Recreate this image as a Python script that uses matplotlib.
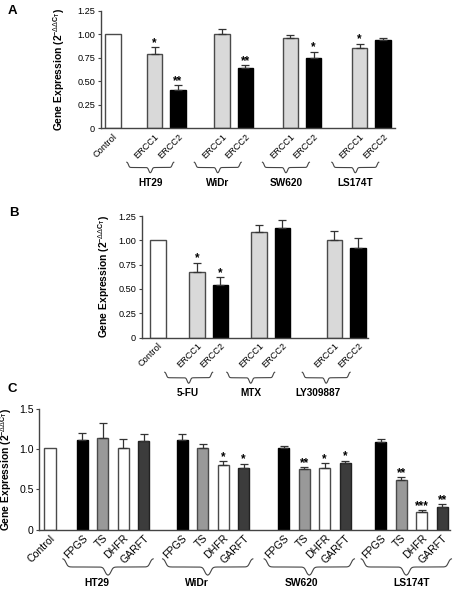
import matplotlib
matplotlib.use("Agg")
import matplotlib.pyplot as plt
import matplotlib.transforms as mtransforms
import numpy as np

plt.rcParams['font.family'] = ['Liberation Sans', 'DejaVu Sans']
plt.rcParams['mathtext.fontset'] = 'custom'
plt.rcParams['mathtext.rm'] = 'Liberation Sans'
plt.rcParams['mathtext.bf'] = 'Liberation Sans:bold'
plt.rcParams['mathtext.it'] = 'Liberation Sans:italic'

# ---------------- data ----------------
A_groups = ['HT29', 'WiDr', 'SW620', 'LS174T']
A_genes = ['ERCC1', 'ERCC2']
A_control = 1.00
A_ercc1 = [0.79, 1.00, 0.96, 0.85]
A_ercc1_err = [0.07, 0.06, 0.03, 0.05]
A_ercc1_sig = ['*', '', '', '*']
A_ercc2 = [0.41, 0.64, 0.745, 0.94]
A_ercc2_err = [0.05, 0.03, 0.07, 0.025]
A_ercc2_sig = ['**', '**', '*', '']

B_groups = ['5-FU', 'MTX', 'LY309887']
B_genes = ['ERCC1', 'ERCC2']
B_control = 1.00
B_ercc1 = [0.67, 1.085, 1.00]
B_ercc1_err = [0.10, 0.075, 0.10]
B_ercc1_sig = ['*', '', '']
B_ercc2 = [0.535, 1.125, 0.92]
B_ercc2_err = [0.085, 0.085, 0.105]
B_ercc2_sig = ['*', '', '']

C_groups = ['HT29', 'WiDr', 'SW620', 'LS174T']
C_genes = ['FPGS', 'TS', 'DHFR', 'GARFT']
C_control = 1.01
C_fpgs = [1.12, 1.12, 1.01, 1.09]
C_fpgs_err = [0.085, 0.075, 0.035, 0.035]
C_fpgs_sig = ['', '', '', '']
C_ts = [1.145, 1.015, 0.75, 0.617]
C_ts_err = [0.185, 0.055, 0.027, 0.033]
C_ts_sig = ['', '', '**', '**']
C_dhfr = [1.02, 0.80, 0.77, 0.218]
C_dhfr_err = [0.11, 0.053, 0.055, 0.02]
C_dhfr_sig = ['', '*', '*', '***']
C_garft = [1.10, 0.77, 0.825, 0.285]
C_garft_err = [0.085, 0.05, 0.033, 0.033]
C_garft_sig = ['', '*', '*', '**']

W, H = 453, 596
fig = plt.figure(figsize=(W / 100, H / 100), dpi=100)

EDGE = '#4a4a4a'
ERRC = '#333333'
LAB_FS = 7.4
YLAB = r'Gene Expression (2$^{\mathbf{-}\Delta\Delta\mathbf{C}_{\mathbf{T}}}$)'


def fy(py):
    return 1 - py / H


def brace(ax, xc, half, ytop_px, ybot_px):
    tr = mtransforms.blended_transform_factory(ax.transData, fig.transFigure)
    u = np.linspace(0, 1, 150)
    k = 45
    s = (1 / (1 + np.exp(-k * (u - 0.07))) + 1 / (1 + np.exp(-k * (u - 0.93)))) / 2
    yt, yb = fy(ytop_px), fy(ybot_px)
    xl = xc - half + half * u
    yl = yt - (yt - yb) * s
    xr = xc + half - half * u
    xs = np.concatenate([xl, xr[::-1]])
    ys = np.concatenate([yl, yl[::-1]])
    ax.plot(xs, ys, color='#444444', lw=0.8, transform=tr, clip_on=False)


def panel(rect, control, series, errs, sigs, colors, edges, group_starts, width,
          xlim, ylim, yticks, yticklabels, genes, groups, brace_shift, brace_half,
          brace_y, label_offsets, label_y, ylab_x, xtick_fs, ytick_fs, grp_fs, star_fs):
    ax = fig.add_axes(rect)
    n_series = len(series)
    # control
    ax.bar([0], [control], width=width, color='white', edgecolor=EDGE, linewidth=1.0, zorder=2)
    xt = [0]
    xl = ['Control']
    gs = np.array(group_starts)
    for si in range(n_series):
        pos = gs + si
        ax.bar(pos, series[si], width=width, color=colors[si], edgecolor=edges[si],
               linewidth=1.0, zorder=2)
        ax.errorbar(pos, series[si], yerr=[np.zeros(len(pos)), errs[si]], fmt='none',
                    ecolor=ERRC, elinewidth=0.9, capsize=2.6, capthick=0.9, zorder=3)
        for p, v, e, s in zip(pos, series[si], errs[si], sigs[si]):
            if s:
                ax.annotate(s, (p, v + e), xytext=(0, 0.8), textcoords='offset points',
                            ha='center', va='baseline', fontsize=star_fs, fontweight='bold')
    for gi in range(len(groups)):
        for si in range(n_series):
            xt.append(gs[gi] + si)
            xl.append(genes[si])
    ax.set_xticks(xt)
    ax.set_xticklabels(xl, rotation=45, ha='right', va='top', rotation_mode='anchor',
                       fontsize=xtick_fs)
    ax.tick_params(axis='x', length=0, pad=2.5)
    ax.tick_params(axis='y', length=2.5, width=0.8, color='#444444', labelsize=ytick_fs,
                   pad=1.5, direction='out')
    ax.set_xlim(*xlim)
    ax.set_ylim(*ylim)
    ax.set_yticks(yticks)
    ax.set_yticklabels(yticklabels)
    for sp in ['top', 'right']:
        ax.spines[sp].set_visible(False)
    for sp in ['left', 'bottom']:
        ax.spines[sp].set_color('#444444')
        ax.spines[sp].set_linewidth(1.0)
    ax.set_ylabel(YLAB, fontsize=LAB_FS, fontweight='bold')
    ax.yaxis.set_label_coords(ylab_x / W, rect[1] + rect[3] / 2, transform=fig.transFigure)
    tr = mtransforms.blended_transform_factory(ax.transData, fig.transFigure)
    for gi, g in enumerate(groups):
        gc = gs[gi] + (n_series - 1) / 2
        bc = gc + brace_shift
        brace(ax, bc, brace_half, brace_y[0], brace_y[1])
        ax.text(gc + label_offsets[gi], fy(label_y), g, transform=tr, ha='center', va='center',
                fontsize=grp_fs, fontweight='bold')
    return ax


# Panel A (unit = 23.5 px)
axA = panel([100.7 / W, fy(128.3), (395 - 100.7) / W, (128.3 - 10.7) / H],
            A_control, [A_ercc1, A_ercc2], [A_ercc1_err, A_ercc2_err],
            [A_ercc1_sig, A_ercc2_sig], ['#d9d9d9', '#000000'], [EDGE, '#000000'],
            [1.77, 4.64, 7.54, 10.49], 0.65, (-0.52, 12.0), (0, 1.25),
            [0, 0.25, 0.5, 0.75, 1.0, 1.25], ['0', '0.25', '0.50', '0.75', '1.00', '1.25'],
            A_genes, A_groups, -0.68, 1.0, (162, 173), [-0.68, -0.68, -0.68, -0.68], 183.5,
            67, 6.6, 6.6, 7.2, 8.5)

# Panel B (unit = 23.5 px)
axB = panel([141.7 / W, fy(337.5), (368 - 141.7) / W, (337.5 - 216) / H],
            B_control, [B_ercc1, B_ercc2], [B_ercc1_err, B_ercc2_err],
            [B_ercc1_sig, B_ercc2_sig], ['#d9d9d9', '#000000'], [EDGE, '#000000'],
            [1.66, 4.30, 7.51], 0.66, (-0.69, 8.94), (0, 1.25),
            [0, 0.25, 0.5, 0.75, 1.0, 1.25], ['0', '0.25', '0.50', '0.75', '1.00', '1.25'],
            B_genes, B_groups, -0.85, 1.02, (372, 383.5), [-0.9, -0.85, -1.2], 392.5,
            112, 6.6, 6.6, 7.2, 8.5)

# Panel C (unit = 20.5 px)
axC = panel([39.3 / W, fy(529.5), (450 - 39.3) / W, (529.5 - 409) / H],
            C_control, [C_fpgs, C_ts, C_dhfr, C_garft],
            [C_fpgs_err, C_ts_err, C_dhfr_err, C_garft_err],
            [C_fpgs_sig, C_ts_sig, C_dhfr_sig, C_garft_sig],
            ['#000000', '#999999', '#ffffff', '#3c3c3c'], ['#000000', EDGE, EDGE, '#222222'],
            [1.58, 6.44, 11.39, 16.12], 0.54, (-0.52, 19.5), (0, 1.5),
            [0, 0.5, 1.0, 1.5], ['0', '0.5', '1.0', '1.5'],
            C_genes, C_groups, -0.25, 2.2, (558.5, 575.5), [-0.8, -0.76, -0.62, 0.0], 583,
            14.5, 7.6, 7.6, 7.4, 8.5)

for lab, x, y in [('A', 12.5, 11), ('B', 13.5, 213.5), ('C', 12.5, 389)]:
    fig.text(x / W, fy(y), lab, ha='center', va='center', fontsize=9.5, fontweight='bold')

fig.savefig('out.png', dpi=100)
